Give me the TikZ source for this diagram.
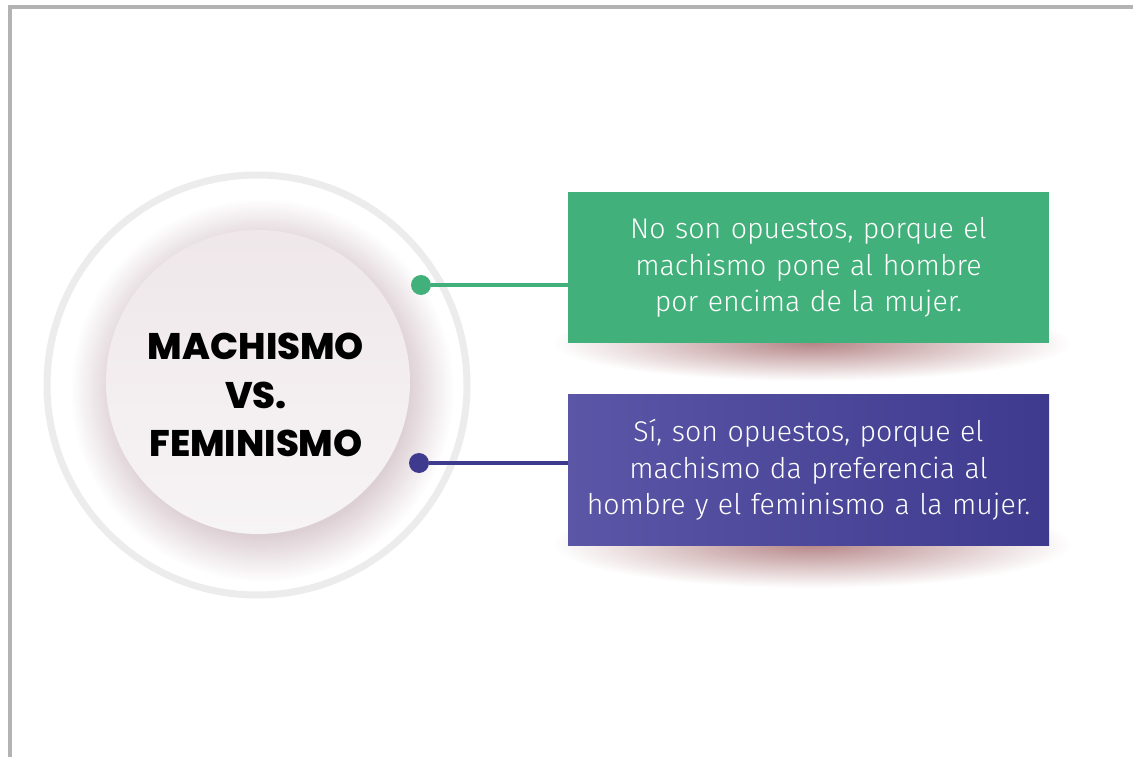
\documentclass[tikz,border=0pt]{standalone}
\usepackage{fontspec}
\usepackage{tikz}
\usetikzlibrary{positioning}
\newfontfamily\titlefont{Poppins ExtraBold}
\newfontfamily\bodyfont{Fira Sans Light}

\definecolor{framegray}{HTML}{B3B3B3}
\definecolor{ringgray}{HTML}{ECECEC}
\definecolor{halocol}{HTML}{DDD0D4}
\definecolor{disctop}{HTML}{EFE7EA}
\definecolor{discbot}{HTML}{F7F4F5}
\definecolor{shadcol}{HTML}{B58587}
\definecolor{opgreen}{HTML}{42B07A}
\definecolor{oppurpleL}{HTML}{5B56A6}
\definecolor{oppurpleR}{HTML}{3E3A8E}

\pgfdeclareradialshading{halo}{\pgfpoint{0bp}{0bp}}{color(0bp)=(halocol); color(19bp)=(halocol); color(25bp)=(white); color(50bp)=(white)}
\pgfdeclareradialshading{boxshade}{\pgfpoint{0bp}{0bp}}{color(0bp)=(shadcol); color(25bp)=(white); color(50bp)=(white)}

\tikzset{
  answer/.style={minimum width=481pt, minimum height=151pt, inner sep=0pt,
    text width=475pt, align=center, text=white,
    font=\bodyfont\fontsize{28.5}{36.5}\selectfont},
  pin/.style={circle, minimum size=20pt, inner sep=0pt},
  link/.style={line width=4pt}
}

\begin{document}
\begin{tikzpicture}[x=1pt, y=-1pt]
  \useasboundingbox (0,0) rectangle (1133,757);
  \fill[white] (0,0) rectangle (1133,757);
  \draw[framegray, line width=4pt] (10,757) -- (10,7) -- (1133,7);

  % central circle
  \draw[ringgray, line width=7pt] (257,385) circle[radius=210pt];
  \shade[shading=halo] (262,390) circle[radius=192pt];
  \shade[top color=disctop, bottom color=discbot] (258,382) circle[radius=152pt];
  \node[align=center, font=\titlefont\fontsize{37}{48.5}\selectfont] (topic) at (256,395)
    {MACHISMO\\VS.\\FEMINISMO};

  % shadows under the boxes
  \shade[shading=boxshade] (812,343) ellipse[x radius=260pt, y radius=38pt];
  \shade[shading=boxshade] (812,544) ellipse[x radius=260pt, y radius=44pt];

  % answers
  \node[answer, fill=opgreen] (nobox) at (808.5,267.5)
    {No son opuestos, porque el\\machismo pone al hombre\\por encima de la mujer.};
  \node[answer, left color=oppurpleL, right color=oppurpleR, below=51pt of nobox] (sibox)
    {Sí, son opuestos, porque el\\machismo da preferencia al\\hombre y el feminismo a la mujer.};

  \node[pin, fill=opgreen] (nopin) at (421,285) {};
  \node[pin, fill=oppurpleR] (sipin) at (419,463) {};
  \draw[link, opgreen] (nopin) -- (nopin -| nobox.west);
  \draw[link, oppurpleR] (sipin) -- (sipin -| sibox.west);
\end{tikzpicture}
\end{document}
